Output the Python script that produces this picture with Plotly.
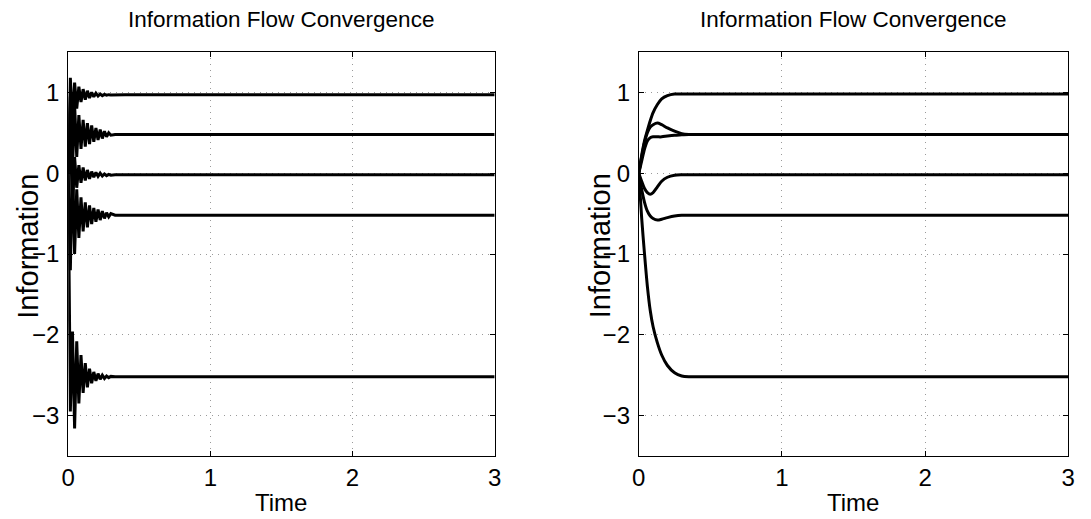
import plotly.graph_objects as go

# ---------------- data ----------------
TITLE = "Information Flow Convergence"
X_LABEL = "Time"
Y_LABEL = "Information"
X_TICKS = [0, 1, 2, 3]
Y_TICKS = [-3, -2, -1, 0, 1]

# left panel (oscillating convergence)
T_LEFT = [0, 0.015, 0.03, 0.045, 0.06, 0.075, 0.09, 0.105, 0.12, 0.135, 0.15, 0.165,
          0.18, 0.195, 0.21, 0.225, 0.24, 0.255, 0.27, 0.285, 0.3, 0.33, 0.4, 3.0]
LEFT_A = [0, 1.18, 0.62, 1.12, 0.80, 1.07, 0.88, 1.04, 0.91, 1.02, 0.93, 1.00,
          0.945, 0.99, 0.955, 0.98, 0.96, 0.975, 0.965, 0.972, 0.968, 0.97, 0.97, 0.97]
LEFT_B = [0, 0.95, 0.05, 0.85, 0.20, 0.72, 0.30, 0.66, 0.33, 0.62, 0.36, 0.59,
          0.39, 0.56, 0.41, 0.54, 0.43, 0.52, 0.45, 0.50, 0.47, 0.48, 0.48, 0.48]
LEFT_C = [0, 0.55, -0.45, 0.20, -0.18, 0.10, -0.12, 0.07, -0.09, 0.04, -0.07, 0.02,
          -0.05, 0.01, -0.04, 0.0, -0.035, -0.01, -0.03, -0.015, -0.025, -0.02, -0.02, -0.02]
LEFT_D = [0, -1.20, 0.10, -1.00, -0.20, -0.80, -0.30, -0.72, -0.36, -0.67, -0.40, -0.63,
          -0.43, -0.60, -0.45, -0.58, -0.47, -0.56, -0.49, -0.54, -0.50, -0.52, -0.52, -0.52]
LEFT_E = [0, -2.95, -1.96, -3.16, -2.08, -2.85, -2.25, -2.72, -2.35, -2.65, -2.42, -2.60,
          -2.46, -2.57, -2.48, -2.55, -2.50, -2.54, -2.51, -2.53, -2.515, -2.52, -2.52, -2.52]

# right panel (smooth convergence)
T_RIGHT = [0, 0.02, 0.04, 0.06, 0.08, 0.10, 0.13, 0.16, 0.20, 0.25, 0.30, 0.35, 0.40, 3.0]
RIGHT_A = [0, 0.22, 0.40, 0.53, 0.65, 0.75, 0.85, 0.92, 0.96, 0.98, 0.98, 0.98, 0.98, 0.98]
RIGHT_B = [0, 0.20, 0.38, 0.50, 0.57, 0.60, 0.62, 0.60, 0.56, 0.52, 0.49, 0.48, 0.48, 0.48]
RIGHT_C = [0, 0.15, 0.30, 0.40, 0.44, 0.45, 0.45, 0.45, 0.46, 0.47, 0.475, 0.48, 0.48, 0.48]
RIGHT_D = [0, -0.10, -0.19, -0.24, -0.26, -0.24, -0.17, -0.10, -0.05, -0.025, -0.02, -0.02, -0.02, -0.02]
RIGHT_E = [0, -0.20, -0.36, -0.47, -0.53, -0.56, -0.58, -0.57, -0.55, -0.53, -0.52, -0.52, -0.52, -0.52]
RIGHT_F = [0, -0.55, -1.00, -1.40, -1.70, -1.90, -2.10, -2.25, -2.38, -2.47, -2.51, -2.52, -2.52, -2.52]

LEFT_SERIES = [LEFT_A, LEFT_B, LEFT_C, LEFT_D, LEFT_E]
RIGHT_SERIES = [RIGHT_A, RIGHT_B, RIGHT_C, RIGHT_D, RIGHT_E, RIGHT_F]

# ---------------- figure ----------------
W, H = 1091, 519
FONT = "Liberation Sans, Arial, Helvetica, sans-serif"

fig = go.Figure()
for ys in LEFT_SERIES:
    fig.add_trace(go.Scatter(x=T_LEFT, y=ys, xaxis="x", yaxis="y", mode="lines",
                             line=dict(color="black", width=3), showlegend=False,
                             hoverinfo="skip"))
for ys in RIGHT_SERIES:
    fig.add_trace(go.Scatter(x=T_RIGHT, y=ys, xaxis="x2", yaxis="y2", mode="lines",
                             line=dict(color="black", width=3, shape="spline", smoothing=0.8),
                             showlegend=False, hoverinfo="skip"))

def px_x(p):
    return p / W

def px_y(p):
    return 1 - p / H

common = dict(showline=True, linecolor="black", linewidth=1, mirror="ticks",
              ticks="inside", ticklen=5, tickcolor="black", tickwidth=1,
              showgrid=True, gridcolor="#9a9a9a", griddash="1px,5px", gridwidth=1,
              zeroline=False, tickfont=dict(family=FONT, size=24, color="black"))

L_DOM = [px_x(62), px_x(494)]
R_DOM = [px_x(640), px_x(1075)]
Y_DOM = [px_y(456), px_y(52)]

fig.update_layout(
    width=W, height=H, margin=dict(l=0, r=0, t=0, b=0),
    paper_bgcolor="white", plot_bgcolor="white",
    xaxis=dict(domain=L_DOM, range=[0, 3], tickvals=X_TICKS, anchor="y", **common),
    yaxis=dict(domain=Y_DOM, range=[-3.5, 1.5], tickvals=Y_TICKS, anchor="x",
               ticklabelstandoff=3, **common),
    xaxis2=dict(domain=R_DOM, range=[0, 3], tickvals=X_TICKS, anchor="y2", **common),
    yaxis2=dict(domain=Y_DOM, range=[-3.5, 1.5], tickvals=Y_TICKS, anchor="x2",
                ticklabelstandoff=3, **common),
)

annos = []
for dom in (L_DOM, R_DOM):
    cx = (dom[0] + dom[1]) / 2
    annos.append(dict(text=TITLE, x=cx, y=px_y(19), xref="paper", yref="paper",
                      xanchor="center", yanchor="middle", showarrow=False,
                      font=dict(family=FONT, size=22.5, color="black")))
    annos.append(dict(text=X_LABEL, x=cx, y=px_y(502), xref="paper", yref="paper",
                      xanchor="center", yanchor="middle", showarrow=False,
                      font=dict(family=FONT, size=24, color="black")))
for xc in (21, 601):
    annos.append(dict(text=Y_LABEL, x=px_x(xc), y=px_y(246), xref="paper", yref="paper",
                      xanchor="center", yanchor="middle", showarrow=False, textangle=-90,
                      font=dict(family=FONT, size=29, color="black")))
fig.update_layout(annotations=annos)

fig.write_html("out.html")
